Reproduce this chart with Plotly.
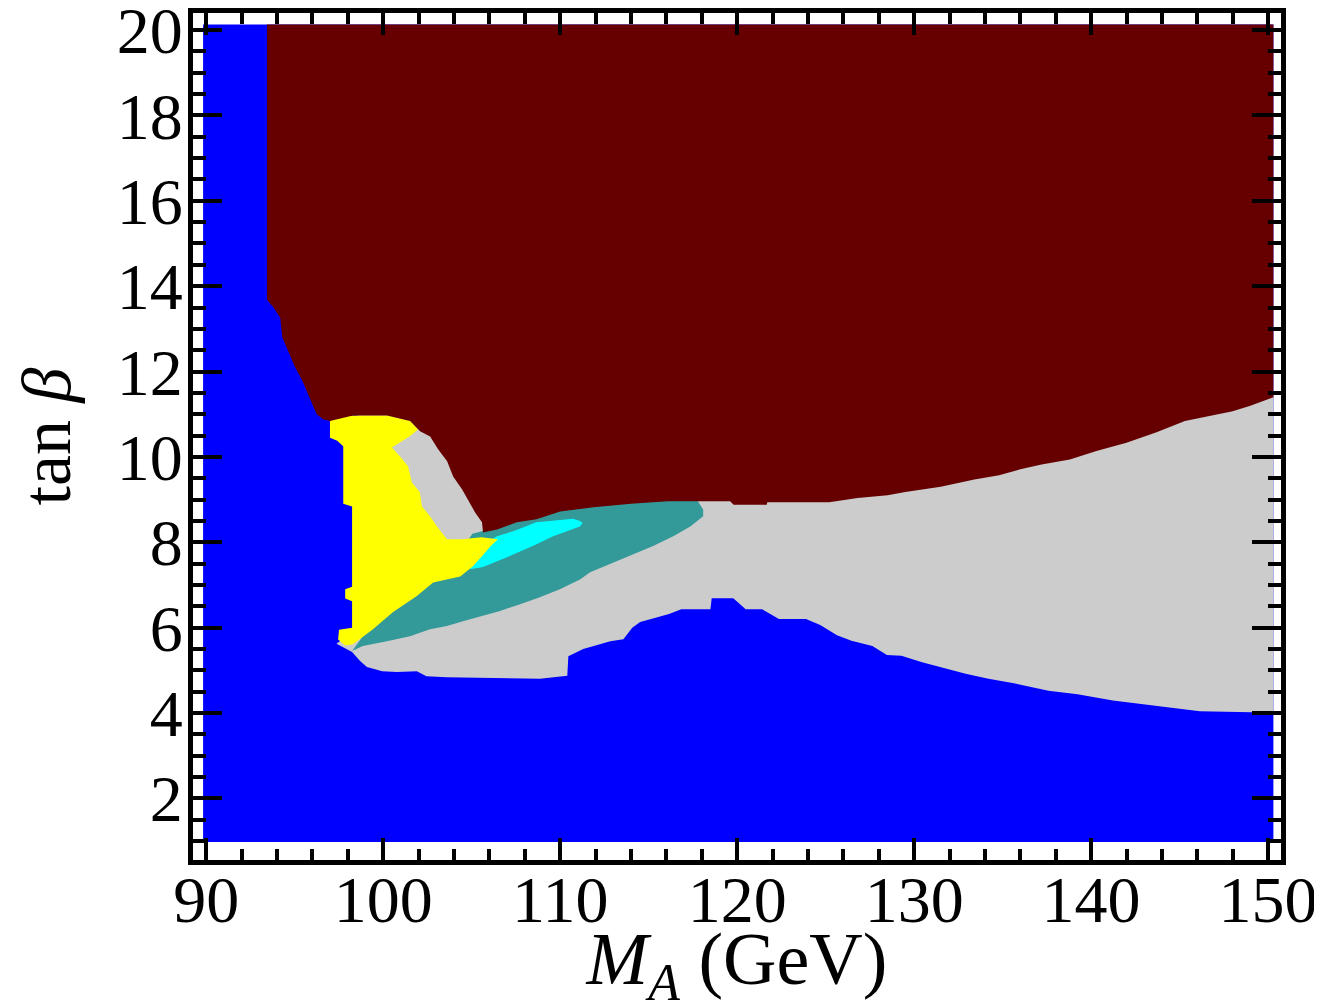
import plotly.graph_objects as go

# ---------------- data ----------------
# extent of the (M_A, tan beta) scan
scan_x = [89.82, 150.30]
scan_y = [0.98, 20.13]

# lower/left edge of the dark-red region (top-left -> right edge)
red_x = [93.43, 93.43, 93.80, 94.18, 94.30, 94.62, 95.02, 95.41, 95.81, 96.24,
         96.60, 96.99, 98.29, 100.22, 101.52, 102.08, 102.65, 103.10, 103.61,
         103.95, 104.45, 104.79, 105.19, 105.58, 105.64, 106.43, 107.55, 108.66,
         110.00, 111.88, 114.00, 116.07, 119.60, 119.80, 121.67, 121.70, 125.20,
         126.80, 128.50, 129.50, 131.50, 133.40, 134.80, 136.00, 137.20, 138.80,
         140.30, 142.00, 143.70, 145.30, 146.80, 148.00, 149.00, 150.00, 150.30]
red_y = [20.13, 13.68, 13.50, 13.26, 12.80, 12.50, 12.10, 11.80, 11.40, 11.00,
         10.88, 10.84, 10.97, 10.97, 10.84, 10.60, 10.48, 10.18, 9.90,
         9.54, 9.24, 9.00, 8.70, 8.47, 8.23, 8.30, 8.47, 8.54,
         8.72, 8.82, 8.90, 8.96, 8.96, 8.88, 8.88, 8.94, 8.94,
         9.04, 9.10, 9.18, 9.30, 9.47, 9.57, 9.71, 9.82, 9.94,
         10.14, 10.33, 10.58, 10.84, 10.97, 11.07, 11.20, 11.35, 11.40]

# grey region: lower edge (left -> right), then its part hidden under red/yellow
grey_x = [97.36, 98.24, 98.69, 99.08, 99.94, 100.77, 101.90, 102.44, 103.60,
          108.86, 110.40, 110.46, 111.30, 112.83, 113.57, 114.07, 114.52, 115.09,
          116.15, 116.84, 118.49, 118.56, 119.78, 120.48, 121.41, 122.36, 123.89,
          124.69, 125.64, 126.46, 127.64, 128.46, 129.28, 130.45, 131.74, 132.91,
          134.20, 135.72, 137.59, 139.23, 141.23, 143.68, 146.14, 149.07, 150.30,
          150.30, 98.55, 98.55]
grey_y = [5.62, 5.43, 5.22, 5.08, 4.98, 4.96, 4.98, 4.86, 4.84,
          4.80, 4.87, 5.33, 5.50, 5.68, 5.73, 6.00, 6.13, 6.20,
          6.32, 6.43, 6.43, 6.69, 6.69, 6.43, 6.43, 6.20, 6.20,
          6.06, 5.82, 5.69, 5.57, 5.36, 5.34, 5.19, 5.04, 4.92,
          4.80, 4.69, 4.52, 4.44, 4.29, 4.17, 4.04, 4.02, 4.02,
          11.60, 11.60, 6.00]

# teal band
teal_x = [98.24, 98.84, 100.21, 101.51, 102.64, 103.60, 104.50, 105.44, 106.60,
          107.73, 108.85, 109.98, 111.12, 111.69, 113.00, 114.12, 115.25, 116.39,
          117.35, 118.08, 118.08, 117.75, 116.05, 111.86, 109.98, 108.65, 107.55,
          106.42, 105.64, 105.04, 104.54, 98.94]
teal_y = [5.45, 5.57, 5.68, 5.80, 5.96, 6.04, 6.15, 6.25, 6.39,
          6.55, 6.71, 6.90, 7.13, 7.30, 7.53, 7.72, 7.91, 8.14,
          8.37, 8.61, 8.77, 8.98, 9.00, 8.86, 8.76, 8.60, 8.52,
          8.35, 8.27, 8.20, 7.90, 5.85]

# cyan strip
cyan_x = [104.90, 105.64, 106.99, 108.45, 109.60, 111.12, 111.27, 111.12,
          110.73, 108.65, 107.35, 106.42, 105.44]
cyan_y = [7.37, 7.42, 7.65, 7.91, 8.14, 8.37, 8.45, 8.50,
          8.55, 8.47, 8.26, 8.14, 7.90]

# yellow region
yellow_x = [96.99, 97.25, 98.29, 100.22, 101.52, 101.96, 101.52, 100.95, 100.49,
            100.95, 101.40, 101.62, 102.07, 102.19, 102.64, 103.04, 103.60, 104.45,
            105.55, 106.48, 106.05, 105.64, 105.07, 104.35, 103.60, 102.82, 101.90,
            100.54, 99.42, 98.29, 97.85, 97.45, 97.50, 98.24, 98.24, 97.85,
            97.85, 98.24, 98.24, 97.74, 97.74, 97.40, 96.99]
yellow_y = [10.84, 10.95, 10.97, 10.97, 10.84, 10.64, 10.49, 10.34, 10.22,
            10.01, 9.78, 9.40, 9.17, 8.84, 8.61, 8.37, 8.07, 8.07,
            8.12, 8.07, 7.90, 7.70, 7.44, 7.20, 7.13, 7.06, 6.74,
            6.36, 5.96, 5.61, 5.58, 5.72, 5.95, 6.00, 6.62, 6.68,
            6.90, 6.96, 8.84, 8.90, 10.25, 10.38, 10.45]

colors = {"blue": "#0000ff", "grey": "#cccccc", "teal": "#339999",
          "cyan": "#00ffff", "yellow": "#ffff00", "red": "#660000"}

x_ticks = [90, 100, 110, 120, 130, 140, 150]
y_ticks = [2, 4, 6, 8, 10, 12, 14, 16, 18, 20]

# ---------------- figure ----------------
fig = go.Figure()


def region(xs, ys, color):
    fig.add_trace(go.Scatter(x=xs, y=ys, mode="lines", fill="toself",
                             fillcolor=color, line=dict(width=0, color=color),
                             hoverinfo="skip", showlegend=False))


region([scan_x[0], scan_x[1], scan_x[1], scan_x[0]],
       [scan_y[0], scan_y[0], scan_y[1], scan_y[1]], colors["blue"])
region(grey_x, grey_y, colors["grey"])
region(teal_x, teal_y, colors["teal"])
region(cyan_x, cyan_y, colors["cyan"])
region(yellow_x, yellow_y, colors["yellow"])
region(red_x + [scan_x[1]], red_y + [scan_y[1]], colors["red"])

font = "Liberation Serif, Times New Roman, serif"

fig.update_layout(
    template="none",
    width=1322, height=1003,
    margin=dict(l=185, r=49, t=5, b=151, autoexpand=False),
    paper_bgcolor="white", plot_bgcolor="white",
    font=dict(family=font, color="black", size=66),
    xaxis=dict(
        range=[89.25, 150.73], tickmode="array", tickvals=x_ticks,
        ticktext=[str(v) for v in x_ticks],
        ticks="inside", ticklen=22, tickwidth=4, tickcolor="black",
        minor=dict(dtick=2, tick0=90, ticks="inside", ticklen=11,
                   tickwidth=4, tickcolor="black", showgrid=False),
        showline=True, linewidth=5, linecolor="black", mirror="allticks",
        showgrid=False, zeroline=False, automargin=False,
        ticklabeloverflow="allow", ticklabelstandoff=-22,
        tickfont=dict(family=font, size=66, color="black"),
        title=dict(text="<i>M</i><sub><i>A</i></sub> (GeV)",
                   font=dict(family=font, size=74, color="black"),
                   standoff=44),
    ),
    yaxis=dict(
        range=[0.556, 20.40], tickmode="array", tickvals=y_ticks,
        ticktext=[str(v) for v in y_ticks],
        ticks="inside", ticklen=29, tickwidth=4, tickcolor="black",
        minor=dict(dtick=0.5, tick0=0, ticks="inside", ticklen=13,
                   tickwidth=4, tickcolor="black", showgrid=False),
        showline=True, linewidth=5, linecolor="black", mirror="allticks",
        showgrid=False, zeroline=False, automargin=False,
        ticklabeloverflow="allow", ticklabelstandoff=-8,
        tickfont=dict(family=font, size=66, color="black"),
        title=dict(text="tan <i>β</i>",
                   font=dict(family=font, size=70, color="black"),
                   standoff=30),
    ),
)

fig.write_html("out.html")
